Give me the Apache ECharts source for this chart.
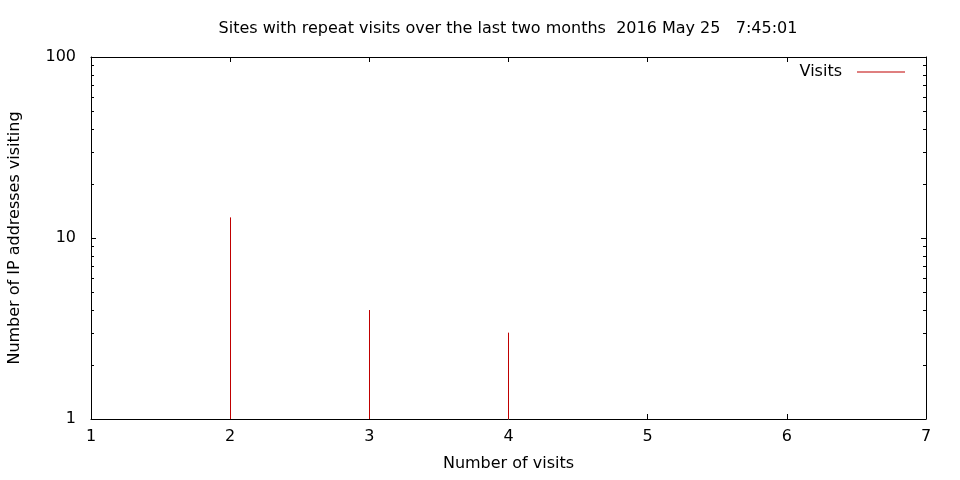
<!DOCTYPE html>
<html>
<head>
<meta charset="utf-8">
<script src="https://cdn.jsdelivr.net/npm/echarts@6/dist/echarts.min.js"></script>
<style>html,body{margin:0;padding:0;background:#fff}#c{width:960px;height:480px}</style>
</head>
<body>
<div id="c"></div>
<script>
const titleText = 'Sites with repeat visits over the last two months  2016 May 25   7:45:01';
const xName = 'Number of visits';
const yName = 'Number of IP addresses visiting';
const seriesName = 'Visits';
const visitCounts = [2, 3, 4];
const ipCounts = [13, 4, 3];
const yMinorTicks = [2, 3, 4, 5, 6, 7, 8, 9, 20, 30, 40, 50, 60, 70, 80, 90];
const xMin = 1, xMax = 7, yMin = 1, yMax = 100;

const FONT = 'DejaVu Sans';
const FS = 16;
const RED = '#c00000';
const chart = echarts.init(document.getElementById('c'), null, {renderer: 'canvas'});

const axisCommon = {
  axisLine: {show: true, onZero: false, lineStyle: {color: '#000', width: 1}},
  axisTick: {show: true, inside: true, length: 5, lineStyle: {color: '#000', width: 1}},
  splitLine: {show: false}
};

chart.setOption({
  animation: false,
  backgroundColor: '#fff',
  title: {
    text: titleText, left: 503, top: 16, textAlign: 'center',
    textStyle: {fontFamily: FONT, fontSize: FS, fontWeight: 'normal', color: '#000'}
  },
  legend: {
    data: [{name: seriesName, itemStyle: {color: RED}}], right: 50, top: 59, align: 'right',
    icon: 'rect', itemWidth: 48, itemHeight: 1, itemGap: 10,
    textStyle: {fontFamily: FONT, fontSize: FS, color: '#000', padding: [0, 10, 0, 0]}
  },
  grid: {left: 91, right: 34, top: 57, bottom: 61, containLabel: false, outerBoundsMode: 'none'},
  xAxis: [
    Object.assign({
      type: 'value', min: xMin, max: xMax, interval: 1, position: 'bottom',
      name: xName, nameLocation: 'middle', nameGap: 37,
      nameTextStyle: {fontFamily: FONT, fontSize: FS, color: '#000'},
      axisLabel: {fontFamily: FONT, fontSize: FS, color: '#000', margin: 10}
    }, axisCommon),
    Object.assign({
      type: 'value', min: xMin, max: xMax, interval: 1, position: 'top',
      axisLabel: {show: false}
    }, axisCommon)
  ],
  yAxis: [
    Object.assign({
      type: 'log', logBase: 10, min: yMin, max: yMax, position: 'left',
      name: yName, nameLocation: 'middle', nameGap: 68, nameRotate: 90,
      nameTextStyle: {fontFamily: FONT, fontSize: FS, color: '#000'},
      axisLabel: {fontFamily: FONT, fontSize: FS, color: '#000', margin: 15},
      minorTick: {show: false}
    }, axisCommon),
    Object.assign({
      type: 'log', logBase: 10, min: yMin, max: yMax, position: 'right',
      axisLabel: {show: false}, minorTick: {show: false}
    }, axisCommon)
  ],
  series: [
    {
      name: seriesName, type: 'custom', xAxisIndex: 0, yAxisIndex: 0, z: 10,
      itemStyle: {color: RED},
      data: visitCounts.map((x, i) => [x, ipCounts[i]]),
      renderItem: function (params, api) {
        const p0 = api.coord([api.value(0), yMin]);
        const p1 = api.coord([api.value(0), api.value(1)]);
        const x = Math.floor(p0[0]) + 0.5;
        return {type: 'line', shape: {x1: x, y1: p0[1], x2: x, y2: p1[1]},
          style: {stroke: RED, lineWidth: 1}};
      }
    },
    {
      name: 'minorTicks', type: 'custom', xAxisIndex: 0, yAxisIndex: 0, silent: true,
      data: yMinorTicks.map(v => [xMin, v]),
      renderItem: function (params, api) {
        const pl = api.coord([xMin, api.value(1)]);
        const pr = api.coord([xMax, api.value(1)]);
        const y = Math.round(pl[1]) + 0.5;
        return {type: 'group', children: [
          {type: 'line', shape: {x1: pl[0], y1: y, x2: pl[0] + 3, y2: y}, style: {stroke: '#000', lineWidth: 1}},
          {type: 'line', shape: {x1: pr[0], y1: y, x2: pr[0] - 3, y2: y}, style: {stroke: '#000', lineWidth: 1}}
        ]};
      }
    }
  ]
});
</script>
</body>
</html>
